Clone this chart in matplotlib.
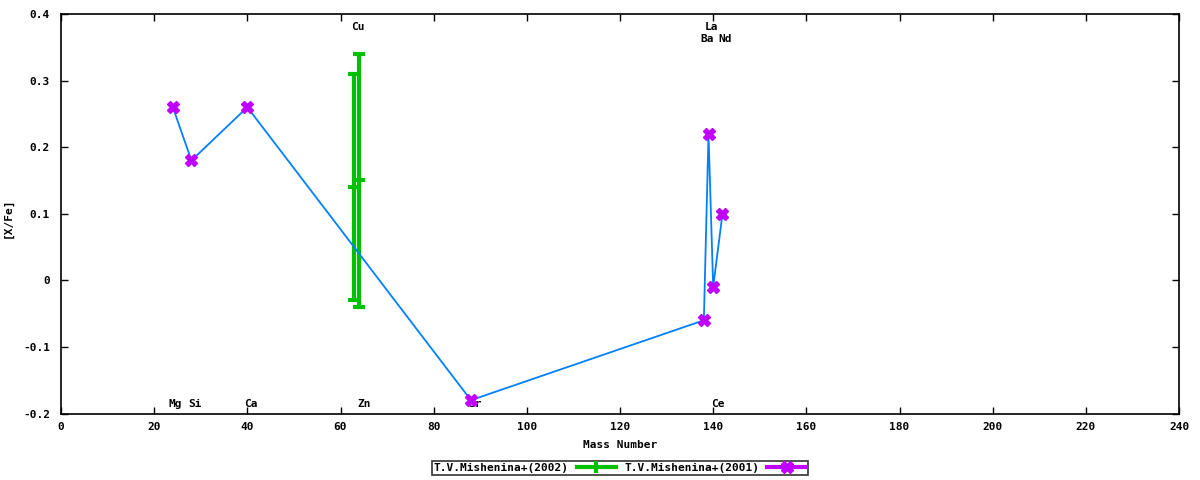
import matplotlib
matplotlib.use("Agg")
import matplotlib.pyplot as plt
from matplotlib.lines import Line2D

# Data
mass_2001 = [24, 28, 40, 88, 138, 139, 140, 142]
xfe_2001 = [0.26, 0.18, 0.26, -0.18, -0.06, 0.22, -0.01, 0.10]

mass_2002 = [63, 64]
xfe_2002 = [0.14, 0.15]
err_lo_2002 = [0.17, 0.19]
err_hi_2002 = [0.17, 0.19]

top_labels = ["Cu", "La", "Ba", "Nd"]
top_x = [63.7, 139.7, 138.8, 142.5]
top_y = [0.381, 0.381, 0.363, 0.363]
bottom_labels = ["Mg", "Si", "Ca", "Zn", "Sr", "Ce"]
bottom_x = [24.6, 28.7, 40.8, 65.0, 88.8, 141.0]
bottom_y = [-0.185] * 6

legend_labels = ["T.V.Mishenina+(2002)", "T.V.Mishenina+(2001)"]

font = "DejaVu Sans Mono"
fs = 8

fig = plt.figure(figsize=(12, 4.8), dpi=100)
ax = fig.add_axes([61/1200, 1-413.5/480, (1179-61)/1200, (413.5-14)/480])

green = "#00c000"
purple = "#c000ff"
blue = "#0080ff"

ax.errorbar(mass_2002, xfe_2002, yerr=[err_lo_2002, err_hi_2002], fmt="none",
            ecolor=green, elinewidth=3, capsize=4, capthick=3, zorder=2)
ax.plot(mass_2002, xfe_2002, ls="none", marker="_", ms=8, mew=3, color=green, zorder=2)
ax.plot(mass_2001, xfe_2001, color=blue, lw=1.3, zorder=3)
ax.plot(mass_2001, xfe_2001, ls="none", marker="X", ms=8, color=purple, mec=purple, zorder=4)

for t, x, y in zip(top_labels, top_x, top_y):
    ax.text(x, y, t, ha="center", va="center", family=font, fontsize=fs, fontweight="bold")
for t, x, y in zip(bottom_labels, bottom_x, bottom_y):
    ax.text(x, y, t, ha="center", va="center", family=font, fontsize=fs, fontweight="bold", zorder=3)

ax.set_xlim(0, 240)
ax.set_ylim(-0.2, 0.4)
ax.set_xticks(range(0, 241, 20))
ax.set_yticks([-0.2, -0.1, 0, 0.1, 0.2, 0.3, 0.4])
ax.set_yticklabels(["-0.2", "-0.1", "0", "0.1", "0.2", "0.3", "0.4"])
ax.tick_params(direction="in", length=5, top=True, right=True, labelsize=fs, width=1)
for lab in ax.get_xticklabels() + ax.get_yticklabels():
    lab.set_family(font)
    lab.set_fontweight("bold")
ax.tick_params(axis="x", pad=6)
ax.tick_params(axis="y", pad=8)
for s in ax.spines.values():
    s.set_linewidth(1.2)

ax.set_xlabel("Mass Number", family=font, fontsize=fs, fontweight="bold", labelpad=6)
ax.set_ylabel("[X/Fe]", family=font, fontsize=fs, fontweight="bold")
ax.yaxis.set_label_coords(-0.043, 0.49)

h1 = Line2D([0], [0], color=green, lw=3, marker="|", ms=8, mew=3)
h2 = Line2D([0], [0], color=purple, lw=3, marker="X", ms=8)
leg = fig.legend([h1, h2], legend_labels, loc="center", bbox_to_anchor=(620/1200, 1-468/480),
                 ncol=2, frameon=True, fancybox=False, edgecolor="black",
                 prop={"family": font, "size": fs, "weight": "bold"},
                 handlelength=3.5, handletextpad=0.7, columnspacing=0.8,
                 borderpad=0.15, markerfirst=False)
leg.get_frame().set_linewidth(1.2)

fig.savefig("out.png", dpi=100)
